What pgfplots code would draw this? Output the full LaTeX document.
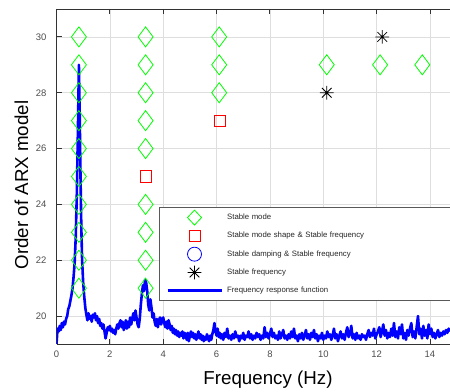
\documentclass[border=0pt]{standalone}
\usepackage{fontspec}
\setmainfont{Liberation Sans}
\usepackage{pgfplots}
\usepackage{pgfplotstable}
\pgfplotsset{compat=1.18}
\usetikzlibrary{plotmarks}
\pgfdeclareplotmark{mstar}{%
  \pgfpathmoveto{\pgfqpoint{-\pgfplotmarksize}{0pt}}\pgfpathlineto{\pgfqpoint{\pgfplotmarksize}{0pt}}%
  \pgfpathmoveto{\pgfqpoint{0pt}{-\pgfplotmarksize}}\pgfpathlineto{\pgfqpoint{0pt}{\pgfplotmarksize}}%
  \pgfpathmoveto{\pgfqpoint{-.707\pgfplotmarksize}{-.707\pgfplotmarksize}}\pgfpathlineto{\pgfqpoint{.707\pgfplotmarksize}{.707\pgfplotmarksize}}%
  \pgfpathmoveto{\pgfqpoint{-.707\pgfplotmarksize}{.707\pgfplotmarksize}}\pgfpathlineto{\pgfqpoint{.707\pgfplotmarksize}{-.707\pgfplotmarksize}}%
  \pgfusepathqstroke
}
\definecolor{mgreen}{rgb}{0,1,0}
\definecolor{mred}{rgb}{1,0,0}
\definecolor{mblue}{rgb}{0,0,1}

\pgfplotsset{
  mleg/.style={legend image code/.code={\draw[##1, mark repeat=2, mark phase=2] plot coordinates {(0bp,0bp) (27bp,0bp) (54bp,0bp)};}},
  dleg/.style={legend image code/.code={\draw[##1, mark size=7.5bp, mark options={draw=mgreen, xscale=1.25, line width=0.8bp}, mark repeat=2, mark phase=2] plot coordinates {(0bp,0bp) (27bp,0bp) (54bp,0bp)};}},
  lleg/.style={legend image code/.code={\draw[##1] (0bp,0bp) -- (54bp,0bp);}},
}

\pgfplotstableread{
x y
0.00 19.00
0.04 19.55
0.08 19.45
0.12 19.65
0.16 19.50
0.20 19.75
0.24 19.60
0.28 19.80
0.32 19.70
0.36 19.90
0.40 20.00
0.44 20.25
0.48 20.35
0.52 20.55
0.56 20.75
0.60 21.00
0.64 21.40
0.68 21.90
0.72 22.80
0.76 24.30
0.80 26.50
0.84 29.00
0.87 27.20
0.90 25.00
0.93 23.20
0.96 22.00
1.00 21.20
1.04 20.70
1.08 20.30
1.12 20.05
1.16 19.85
1.20 20.10
1.24 19.90
1.28 20.00
1.32 19.80
1.36 20.05
1.40 19.95
1.44 20.10
1.48 19.85
1.52 20.00
1.56 19.75
1.60 19.90
1.64 19.65
1.68 19.75
1.72 19.55
1.76 19.70
1.80 19.45
1.84 19.20
1.88 19.40
1.92 19.60
1.96 19.50
2.00 19.65
2.04 19.45
2.08 19.55
2.12 19.40
2.16 19.50
2.20 19.35
2.24 19.55
2.28 19.70
2.32 19.55
2.36 19.75
2.40 19.85
2.44 19.60
2.48 19.80
2.52 19.50
2.56 19.65
2.60 19.85
2.64 19.55
2.68 19.80
2.72 19.60
2.76 19.95
2.80 19.70
2.84 19.90
2.88 20.10
2.92 19.85
2.96 20.20
3.00 19.95
3.04 19.70
3.08 19.60
3.12 19.90
3.16 20.40
3.20 20.80
3.24 21.10
3.28 20.90
3.32 21.30
3.36 21.20
3.40 20.90
3.44 20.40
3.48 20.20
3.52 20.60
3.56 20.30
3.60 19.95
3.64 20.10
3.68 19.80
3.72 19.65
3.76 19.90
3.80 19.60
3.84 19.85
3.88 19.95
3.92 19.70
3.96 19.85
4.00 19.95
4.04 19.75
4.08 19.60
4.12 19.80
4.16 19.55
4.20 19.85
4.24 19.70
4.28 19.50
4.32 19.65
4.36 19.40
4.40 19.55
4.44 19.35
4.48 19.50
4.52 19.30
4.56 19.45
4.60 19.25
4.64 19.40
4.68 19.30
4.72 19.45
4.76 19.20
4.80 19.40
4.84 19.35
4.88 19.15
4.92 19.40
4.96 19.10
5.00 19.30
5.04 19.45
5.08 19.25
5.12 19.40
5.16 19.20
5.20 19.35
5.24 19.15
5.28 19.30
5.32 19.45
5.36 19.20
5.40 19.35
5.44 19.15
5.48 19.30
5.52 19.10
5.56 19.25
5.60 19.15
5.64 19.35
5.68 19.20
5.72 19.10
5.76 19.30
5.80 19.15
5.84 19.35
5.88 19.50
5.92 19.75
5.96 19.45
6.00 19.30
6.04 19.55
6.08 19.25
6.12 19.40
6.16 19.20
6.20 19.35
6.25 19.15
6.30 19.40
6.35 19.25
6.40 19.55
6.45 19.20
6.50 19.30
6.55 19.15
6.60 19.35
6.65 19.20
6.70 19.45
6.75 19.25
6.80 19.30
6.85 19.10
6.90 19.30
6.95 19.20
7.00 19.40
7.05 19.15
7.10 19.30
7.15 19.25
7.20 19.45
7.25 19.20
7.30 19.35
7.35 19.15
7.40 19.30
7.45 19.20
7.50 19.40
7.55 19.25
7.60 19.35
7.65 19.15
7.70 19.30
7.75 19.20
7.80 19.60
7.85 19.25
7.90 19.40
7.95 19.20
8.00 19.35
8.05 19.55
8.10 19.25
8.15 19.40
8.20 19.20
8.25 19.30
8.30 19.15
8.35 19.45
8.40 19.20
8.45 19.35
8.50 19.50
8.55 19.20
8.60 19.30
8.65 19.15
8.70 19.35
8.75 19.20
8.80 19.45
8.85 19.25
8.90 19.55
8.95 19.20
9.00 19.30
9.05 19.10
9.10 19.35
9.15 19.20
9.20 19.40
9.25 19.15
9.30 19.30
9.35 19.50
9.40 19.20
9.45 19.35
9.50 19.15
9.55 19.40
9.60 19.25
9.65 19.50
9.70 19.20
9.75 19.35
9.80 19.10
9.85 19.30
9.90 19.20
9.95 19.40
10.00 19.15
10.05 19.30
10.10 19.20
10.15 19.45
10.20 19.25
10.25 19.35
10.30 19.15
10.35 19.30
10.40 19.55
10.45 19.20
10.50 19.35
10.55 19.10
10.60 19.30
10.65 19.45
10.70 19.20
10.75 19.35
10.80 19.15
10.85 19.40
10.90 19.60
10.95 19.25
11.00 19.35
11.05 19.65
11.10 19.20
11.15 19.35
11.20 19.15
11.25 19.40
11.30 19.20
11.35 19.30
11.40 19.15
11.45 19.35
11.50 19.25
11.55 19.30
11.60 19.15
11.65 19.35
11.70 19.50
11.75 19.25
11.80 19.40
11.85 19.30
11.90 19.55
11.95 19.20
12.00 19.35
12.05 19.45
12.10 19.60
12.15 19.25
12.20 19.45
12.25 19.70
12.30 19.30
12.35 19.50
12.40 19.20
12.45 19.40
12.50 19.25
12.55 19.55
12.60 19.30
12.65 19.75
12.70 19.25
12.75 19.45
12.80 19.20
12.85 19.60
12.90 19.35
12.95 19.70
13.00 19.20
13.05 19.40
13.10 19.15
13.15 19.50
13.20 19.30
13.25 19.55
13.30 19.75
13.35 19.25
13.40 19.45
13.45 19.20
13.50 19.60
13.55 20.00
13.60 19.35
13.65 19.55
13.70 19.20
13.75 19.65
13.80 19.30
13.85 19.50
13.90 19.20
13.95 19.70
14.00 19.35
14.05 19.55
14.10 19.25
14.15 19.40
14.20 19.20
14.25 19.35
14.30 19.50
14.35 19.25
14.40 19.40
14.45 19.30
14.50 19.45
14.55 19.35
14.60 19.50
14.65 19.40
14.70 19.55
14.75 19.45
}\frf

\begin{document}
\begin{tikzpicture}
\begin{axis}[
  at={(56.5bp,48bp)}, anchor=south west,
  scale only axis, width=393.5bp, height=335bp,
  xmin=0, xmax=14.75, ymin=19, ymax=31,
  axis x line*=box, axis y line*=left,
  tick align=inside,
  xtick={0,2,...,14}, ytick={20,22,...,30},
  grid=major, major grid style={draw=black!13, line width=0.7bp},
  axis line style={draw=black!80, line width=0.9bp},
  major tick length=5bp,
  tick style={draw=black!80, line width=0.9bp},
  /pgf/number format/assume math mode=true,
  ticklabel style={font=\fontsize{9.5}{11}\selectfont, text=black!70},
  xticklabel style={yshift=-3.5bp},
  yticklabel style={xshift=-6.5bp},
  xlabel={Frequency (Hz)}, ylabel={Order of ARX model},
  label style={font=\fontsize{18.8}{22}\selectfont},
  xlabel style={at={(axis description cs:0.5375,-0.1195)}, anchor=base},
  ylabel style={at={(axis description cs:-0.0724,0.4746)}, anchor=base},
  legend style={
    at={(axis description cs:0.2605,0.409)}, anchor=north west,
    draw=black!65, line width=0.9bp, fill=white,
    inner xsep=6.7bp, inner ysep=1bp,
    font=\fontsize{7.8}{9}\selectfont,
    nodes={inner sep=0pt, minimum height=18.3bp, text=black!85},
    /tikz/every odd column/.append style={column sep=4.3bp},
    /tikz/every even column/.append style={text width=235bp},
  },
  legend cell align=left,
]
\addplot[mblue, line width=2.6bp, line join=round, forget plot] table[x=x,y=y] {\frf};

\addplot[only marks, mark=diamond, mark size=10bp,
  mark options={draw=mgreen, line width=0.8bp}, dleg]
coordinates {
(0.84,21) (0.84,22) (0.84,23) (0.84,24) (0.84,25) (0.84,26) (0.84,27) (0.84,28) (0.84,29) (0.84,30)
(3.34,21) (3.34,22) (3.34,23) (3.34,24) (3.34,26) (3.34,27) (3.34,28) (3.34,29) (3.34,30)
(6.10,28) (6.10,29) (6.10,30)
(10.13,29) (12.13,29) (13.71,29)
};
\addlegendentry{Stable mode}

\addplot[only marks, mark=square, mark size=5.6bp,
  mark options={draw=mred, line width=0.8bp}, mleg]
coordinates {(3.34,25) (6.13,27)};
\addlegendentry{Stable mode shape \& Stable frequency}

\addlegendimage{only marks, mark=o, mark size=7bp, mark options={draw=mblue, line width=0.8bp}, mleg}
\addlegendentry{Stable damping \& Stable frequency}

\addplot[only marks, mark=mstar, mark size=6.8bp,
  mark options={draw=black, line width=0.8bp}, mleg]
coordinates {(10.13,28) (12.21,30)};
\addlegendentry{Stable frequency}

\addlegendimage{mblue, line width=2.7bp, lleg}
\addlegendentry{Frequency response function}
\end{axis}
\pgfresetboundingbox
\path[use as bounding box] (0,0) rectangle (450bp,392bp);
\end{tikzpicture}
\end{document}
